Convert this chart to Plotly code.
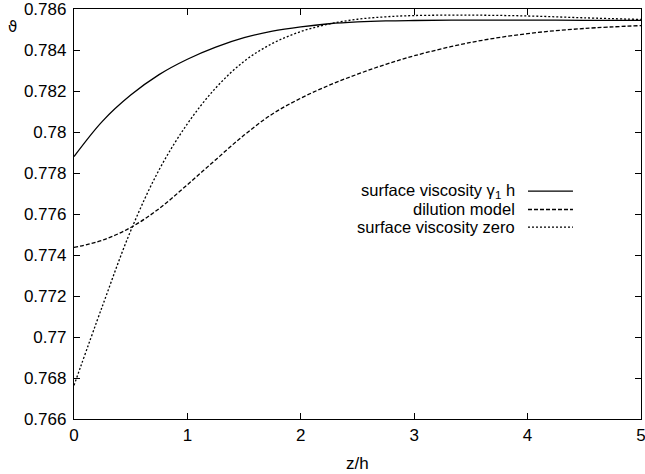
import plotly.graph_objects as go

# z/h sample positions
z = [0, 0.25, 0.5, 0.75, 1.0, 1.25, 1.5, 1.75, 2.0, 2.25, 2.5, 2.75, 3.0, 3.5, 4.0, 4.5, 5.0]

# contact angle profiles
theta_visc = [0.77880, 0.78052, 0.78180, 0.78280, 0.78355, 0.78414, 0.78460, 0.78492,
              0.78513, 0.78528, 0.78537, 0.78542, 0.78544, 0.78546, 0.78546, 0.78545, 0.78545]
theta_dilution = [0.77437, 0.77472, 0.77534, 0.77626, 0.77743, 0.77865, 0.77985, 0.78088,
                  0.78165, 0.78228, 0.78282, 0.78330, 0.78372, 0.78437, 0.78480, 0.78505, 0.78519]
theta_zero = [0.76764, 0.77150, 0.77518, 0.77815, 0.78040, 0.78215, 0.78345, 0.78432,
              0.78490, 0.78527, 0.78550, 0.78562, 0.78568, 0.78570, 0.78566, 0.78557, 0.78549]

series_names = ["surface viscosity γ<sub>1</sub> h", "dilution model", "surface viscosity zero"]
series_values = [theta_visc, theta_dilution, theta_zero]
series_dash = ["solid", "4px,2px", "2px,2px"]

x_ticks = [0, 1, 2, 3, 4, 5]
y_ticks = [0.766, 0.768, 0.77, 0.772, 0.774, 0.776, 0.778, 0.78, 0.782, 0.784, 0.786]
y_tick_text = ["0.766", "0.768", "0.77", "0.772", "0.774", "0.776", "0.778", "0.78",
               "0.782", "0.784", "0.786"]

FONT = "Liberation Sans, Arial, Helvetica, sans-serif"
FS = 17

fig = go.Figure()
for name, vals, dash in zip(series_names, series_values, series_dash):
    fig.add_trace(go.Scatter(
        x=z, y=vals, mode="lines", name=name,
        line=dict(color="black", width=1.3, dash=dash, shape="spline", smoothing=1.0),
        showlegend=False,
    ))

axis_common = dict(
    showgrid=False, zeroline=False, showline=True, linecolor="black", linewidth=1.3,
    mirror="ticks", ticks="inside", ticklen=6, tickwidth=1.2, tickcolor="black",
    tickfont=dict(family=FONT, size=FS, color="black"), ticklabeloverflow="allow",
    automargin=False,
)

fig.update_xaxes(range=[0, 5], tickvals=x_ticks, **axis_common)
fig.update_yaxes(range=[0.766, 0.786], tickvals=y_ticks, ticktext=y_tick_text,
                 ticklabelstandoff=3, **axis_common)

# key: text right-aligned with the line sample on its right
key_rows_y = [0.556, 0.511, 0.468]
for name, dash, ky in zip(series_names, series_dash, key_rows_y):
    fig.add_annotation(x=0.782, y=ky, xref="paper", yref="paper", text=name,
                       showarrow=False, xanchor="right", yanchor="middle",
                       font=dict(family=FONT, size=16.5, color="black"))
    fig.add_shape(type="line", xref="paper", yref="paper",
                  x0=0.8007, x1=0.880, y0=ky, y1=ky,
                  line=dict(color="black", width=1.3, dash=dash))

# axis titles
fig.add_annotation(x=0.5, y=0, xref="paper", yref="paper", text="z/h", showarrow=False,
                   xanchor="center", yanchor="top", yshift=-33,
                   font=dict(family=FONT, size=FS, color="black"))
fig.add_annotation(x=0, y=0.955, xref="paper", yref="paper", text="ϑ", showarrow=False,
                   xanchor="center", yanchor="middle", xshift=-62,
                   font=dict(family="DejaVu Sans, sans-serif", size=15, color="black"))

fig.update_layout(
    width=645, height=474,
    margin=dict(l=74, r=4, t=9, b=55, autoexpand=False),
    plot_bgcolor="white", paper_bgcolor="white",
)

fig.write_html("out.html")
